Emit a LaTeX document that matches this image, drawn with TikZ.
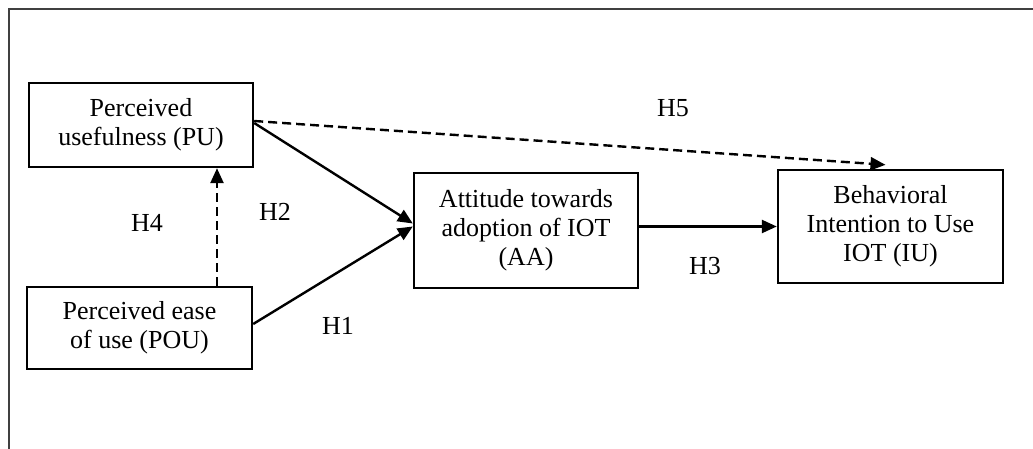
\documentclass[tikz,border=0pt]{standalone}
\usepackage{fontspec}
\setmainfont{Liberation Serif}
\usetikzlibrary{arrows.meta}
\begin{document}
\begin{tikzpicture}[x=1pt,y=-1pt,
  box/.style={draw=black,line width=2.4pt,rectangle,align=center,inner sep=0pt,
    font=\fontsize{26}{29}\selectfont},
  lbl/.style={font=\fontsize{26}{29}\selectfont,inner sep=0pt},
  conn/.style={line width=2.4pt,-{Triangle[length=15pt,width=13pt]}},
  dconn/.style={conn,dash pattern=on 9pt off 5pt}]
\useasboundingbox (0,0) rectangle (1033,449);
\begin{scope}
\clip (0,0) rectangle (1033,449);
\draw[line width=1.8pt,draw=black!75] (9,460) -- (9,9) -- (1040,9);
\end{scope}
\node[box,minimum width=224pt,minimum height=84pt] (PU) at (141,125) {Perceived\\usefulness (PU)};
\node[box,minimum width=225pt,minimum height=82pt] (POU) at (139.5,328) {Perceived ease\\of use (POU)};
\node[box,minimum width=224pt,minimum height=115pt] (AA) at (526,230.5) {Attitude towards\\adoption of IOT\\(AA)};
\node[box,minimum width=225pt,minimum height=113pt] (IU) at (890.5,226.5) {Behavioral\\Intention to Use\\IOT (IU)};
\coordinate (h4s) at ([xshift=77.5pt]POU.north);
\draw[dconn] (h4s) -- (h4s |- PU.south);
\draw[conn] ([yshift=2pt]PU.east) -- ([yshift=7pt]AA.west);
\draw[conn] ([yshift=4pt]POU.east) -- ([yshift=4pt]AA.west);
\draw[conn] ([yshift=4pt]AA.east) -- (IU.west);
\draw[dconn] ([yshift=4pt]PU.east) -- ([xshift=-5pt,yshift=4pt]IU.north);
\node[lbl] (H5) at (673,108) {H5};
\node[lbl] (H4) at (147,223) {H4};
\node[lbl] (H2) at (275,212) {H2};
\node[lbl] (H1) at (338,326) {H1};
\node[lbl] (H3) at (705,266) {H3};
\end{tikzpicture}
\end{document}
